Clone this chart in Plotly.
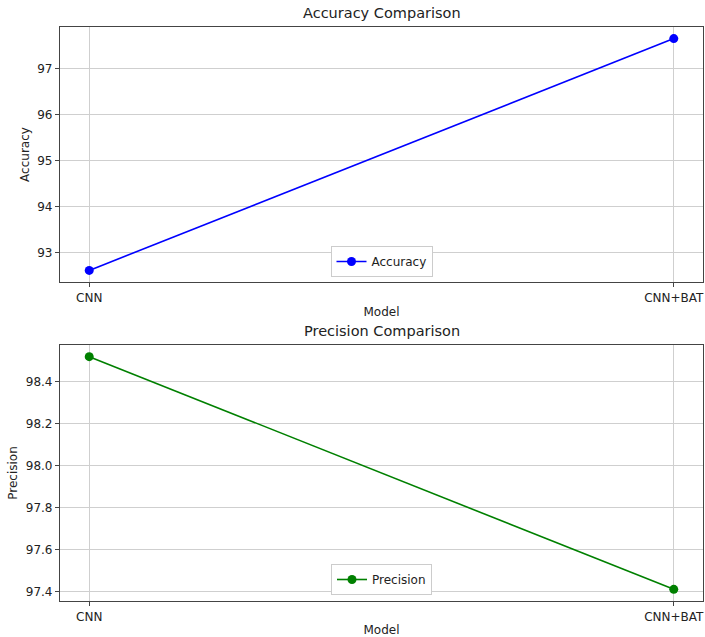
import plotly.graph_objects as go

# Model names and scores
models = ["CNN", "CNN+BAT"]
accuracy = [92.62, 97.66]
precision = [98.52, 97.41]

W, H = 705, 637
FONT = "DejaVu Sans"
GRID = "#cfcfcf"
SPINE = "#444444"

# plot-area pixel boxes (top, bottom) from the page top
top_box = (27, 282)
bot_box = (345, 601)


def dom(box):
    return [1 - box[1] / H, 1 - box[0] / H]


def pad_range(vals, frac=0.05):
    lo, hi = min(vals), max(vals)
    m = (hi - lo) * frac
    return [lo - m, hi + m]


fig = go.Figure()

fig.add_trace(go.Scatter(
    x=models, y=accuracy, mode="lines+markers", name="Accuracy",
    line=dict(color="#0000ff", width=1.6),
    marker=dict(color="#0000ff", size=9),
    xaxis="x", yaxis="y", legend="legend",
))
fig.add_trace(go.Scatter(
    x=models, y=precision, mode="lines+markers", name="Precision",
    line=dict(color="#008000", width=1.6),
    marker=dict(color="#008000", size=9),
    xaxis="x2", yaxis="y2", legend="legend2",
))

axis_common = dict(
    showgrid=True, gridcolor=GRID, gridwidth=1,
    showline=True, linecolor=SPINE, linewidth=1.2, mirror=True,
    ticks="outside", ticklen=4, tickcolor=SPINE,
    tickfont=dict(family=FONT, size=12, color="#222222"),
    zeroline=False,
)

fig.update_layout(
    width=W, height=H,
    margin=dict(l=60, r=2, t=0, b=0),
    paper_bgcolor="white", plot_bgcolor="white",
    font=dict(family=FONT, size=12, color="#222222"),
    xaxis=dict(domain=[0, 1], anchor="y", type="category",
               range=[-0.05, 1.05],
               title=dict(text="Model", font=dict(size=12), standoff=4),
               **axis_common),
    yaxis=dict(domain=dom(top_box), anchor="x",
               range=pad_range(accuracy), dtick=1,
               title=dict(text="Accuracy", font=dict(size=12), standoff=5),
               **axis_common),
    xaxis2=dict(domain=[0, 1], anchor="y2", type="category",
                range=[-0.05, 1.05],
                title=dict(text="Model", font=dict(size=12), standoff=4),
                **axis_common),
    yaxis2=dict(domain=dom(bot_box), anchor="x2",
                range=pad_range(precision), dtick=0.2, tickformat=".1f",
                title=dict(text="Precision", font=dict(size=12), standoff=5),
                **axis_common),
    legend=dict(x=0.5, xanchor="center", y=1 - 277 / H, yanchor="bottom",
                bgcolor="white", bordercolor="#cccccc", borderwidth=1,
                font=dict(family=FONT, size=12), itemwidth=30,
                tracegroupgap=0),
    legend2=dict(x=0.5, xanchor="center", y=1 - 595 / H, yanchor="bottom",
                 bgcolor="white", bordercolor="#cccccc", borderwidth=1,
                 font=dict(family=FONT, size=12), itemwidth=30,
                 tracegroupgap=0),
    showlegend=True,
)

for text, box in [("Accuracy Comparison", top_box), ("Precision Comparison", bot_box)]:
    fig.add_annotation(
        text=text, xref="paper", yref="paper",
        x=0.5, y=1 - box[0] / H, xanchor="center", yanchor="bottom",
        yshift=4, showarrow=False,
        font=dict(family=FONT, size=14.5, color="#222222"),
    )

fig.write_html("out.html")
